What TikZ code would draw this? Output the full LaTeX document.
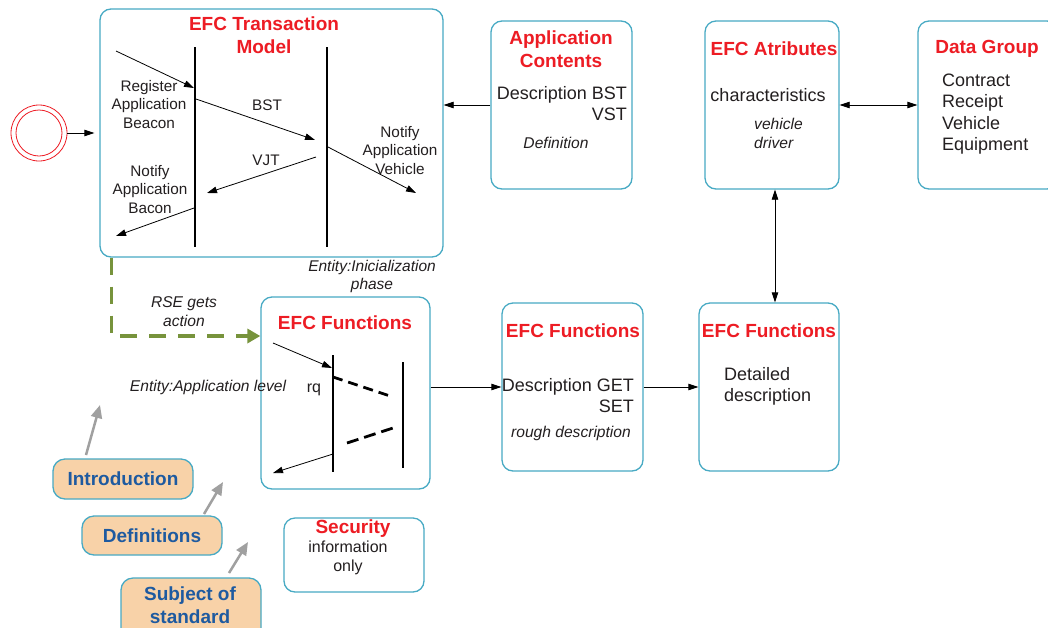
\documentclass[tikz,border=0pt]{standalone}
\usepackage{fontspec}
\setmainfont{Liberation Sans}
\usetikzlibrary{arrows.meta}
\definecolor{boxc}{RGB}{72,170,196}
\definecolor{efcred}{RGB}{237,28,36}
\definecolor{txt}{RGB}{35,31,32}
\definecolor{olivec}{RGB}{119,147,60}
\definecolor{peach}{RGB}{248,210,168}
\definecolor{navy}{RGB}{30,90,160}
\definecolor{greyarr}{RGB}{160,160,160}
\begin{document}
\begin{tikzpicture}[x=1pt,y=-1pt,
  box/.style={draw=boxc,line width=1.3pt,rounded corners=11pt,fill=white,inner sep=0pt},
  tag/.style={draw=boxc,line width=1.3pt,rounded corners=12pt,fill=peach,inner sep=0pt,text=navy,font=\fontsize{19}{23}\selectfont\bfseries,align=center,minimum width=140pt},
  ttl/.style={text=efcred,font=\fontsize{19}{23}\selectfont\bfseries,align=center,inner sep=0pt},
  tx/.style={text=txt,font=\fontsize{15.3}{18.5}\selectfont,align=center,inner sep=0pt},
  big/.style={text=txt,font=\fontsize{18}{21}\selectfont,inner sep=0pt},
  mid/.style={text=txt,font=\fontsize{16}{19}\selectfont,align=center,inner sep=0pt},
  it/.style={text=txt,font=\fontsize{15.6}{18}\selectfont\itshape,align=center,inner sep=0pt},
  arr/.style={draw=black,line width=0.8pt,-{Triangle[length=10pt,width=6.5pt]}},
  darr/.style={draw=black,line width=0.8pt,{Triangle[length=10pt,width=6.5pt]}-{Triangle[length=10pt,width=6.5pt]}},
  life/.style={line width=2.4pt,draw=black},
  dsh/.style={line width=2.8pt,draw=black,dash pattern=on 10pt off 6pt},
  garr/.style={draw=greyarr,line width=2.5pt,-{Triangle[length=13pt,width=11pt]}},
]
\clip (0,0) rectangle (1048,627);
\fill[white] (0,0) rectangle (1048,627);

% boxes
\node[box,minimum width=343pt,minimum height=248pt] (tm) at (271.5,133) {};
\node[box,minimum width=141pt,minimum height=168pt] (ac) at (561.5,105) {};
\node[box,minimum width=134pt,minimum height=168pt] (attr) at (772,105) {};
\node[box,minimum width=140pt,minimum height=168pt] (dg) at (988,105) {};
\node[box,minimum width=169pt,minimum height=192pt] (f2) at (345.5,393) {};
\node[box,minimum width=141pt,minimum height=168pt] (f3) at (572.5,387) {};
\node[box,minimum width=140pt,minimum height=168pt] (f4) at (769,387) {};
\node[box,minimum width=140pt,minimum height=74pt] (sec) at (354,555) {};
\node[tag,minimum height=40pt] (intro) at (123,479) {Introduction};
\node[tag,minimum height=39pt] (defs) at (152,535.5) {Definitions};
\node[tag,minimum height=62pt] (subj) at (191,609) {};
\node[text=navy,font=\fontsize{19}{23}\selectfont\bfseries,align=center,inner sep=0pt] (subjt) at (190,605) {Subject of\\standard};

% start
\node[circle,draw=efcred,line width=0.8pt,minimum size=56pt,inner sep=0pt] (start) at (39,133) {};
\node[circle,draw=efcred,line width=0.8pt,minimum size=46pt,inner sep=0pt] (starti) at (39,133) {};

% titles
\node[ttl] (tmt) at (264,35.5) {EFC Transaction\\Model};
\node[ttl] (act) at (561,49.5) {Application\\Contents};
\node[ttl] (attrt) at (774,49) {EFC Atributes};
\node[ttl] (dgt) at (987,49) {Data Group};
\node[ttl] (f2t) at (345,323) {EFC Functions};
\node[ttl] (f3t) at (573,331) {EFC Functions};
\node[ttl] (f4t) at (769,331) {EFC Functions};
\node[ttl] (sect) at (353,529) {Security};

% transaction model contents
\draw[life] (195,47) -- (195,247);
\draw[life] (327,47) -- (327,247);
\coordinate (m1a) at (116,51); \coordinate (m1b) at (194,88);
\coordinate (m2a) at (196,99); \coordinate (m2b) at (315,140);
\coordinate (m3a) at (316,157); \coordinate (m3b) at (207,193);
\coordinate (m4a) at (328,147); \coordinate (m4b) at (416,193);
\coordinate (m5a) at (194,208); \coordinate (m5b) at (116,236);
\draw[arr] (m1a) -- (m1b);
\draw[arr] (m2a) -- (m2b);
\draw[arr] (m3a) -- (m3b);
\draw[arr] (m4a) -- (m4b);
\draw[arr] (m5a) -- (m5b);
\node[tx] (rab) at (149,104.5) {Register\\Application\\Beacon};
\node[tx] (bst) at (267,105) {BST};
\node[tx] (vjt) at (266,160) {VJT};
\node[tx] (nav) at (400,150.5) {Notify\\Application\\Vehicle};
\node[tx] (nab) at (150,189.5) {Notify\\Application\\Bacon};
\node[it,font=\fontsize{15.5}{18}\selectfont\itshape] (einit) at (372,276) {Entity:Inicialization\\phase};

% application contents
\node[big,align=right,anchor=east] (acd) at (627,103.5) {Description BST\\VST};
\node[it] (acdef) at (556,143) {Definition};

% attributes
\node[big] (attrc) at (768,95) {characteristics};
\node[it,align=left,anchor=west,font=\fontsize{15.6}{19}\selectfont\itshape] (attrv) at (754,133) {vehicle\\driver};

% data group
\node[big,align=left,anchor=west,font=\fontsize{18}{21.3}\selectfont] (dgl) at (942,114) {Contract\\Receipt\\Vehicle\\Equipment};

% f2 contents
\draw[life] (333,355) -- (333,472);
\draw[life] (403,362) -- (403,468);
\coordinate (q1a) at (273,343); \coordinate (q1b) at (332,368);
\coordinate (q2a) at (333,454); \coordinate (q2b) at (273,473);
\draw[arr] (q1a) -- (q1b);
\draw[arr] (q2a) -- (q2b);
\coordinate (d1a) at (333,377); \coordinate (d1b) at (393,397);
\coordinate (d2a) at (347,443); \coordinate (d2b) at (393,428);
\draw[dsh] (d1a) -- (d1b);
\draw[dsh,dash pattern=on 12pt off 6pt] (d2a) -- (d2b);
\node[mid] (rq) at (314,390) {rq};

% f3, f4 contents
\node[big,align=right,anchor=east] (f3d) at (634,395.5) {Description GET\\SET};
\node[it] (f3r) at (571,433) {rough description};
\node[big,align=left,anchor=west] (f4d) at (724,386) {Detailed\\description};

% security
\node[mid] (secb) at (348,557.5) {information\\only};

% free labels
\node[it] (eapp) at (208,387) {Entity:Application level};
\node[it,font=\fontsize{15.6}{19}\selectfont\itshape] (rse) at (184,311.5) {RSE gets\\action};

% connectors
\draw[arr] (start.east) -- ([xshift=-5pt]tm.west |- start);
\draw[arr] (ac.west) -- (ac.west -| tm.east);
\draw[darr] (attr.east) -- (attr.east -| dg.west);
\draw[darr] ([xshift=3pt]attr.south) -- ([xshift=3pt]attr.south |- f4.north);
\draw[arr] (f2.east |- f3.west) -- (f3.west);
\draw[arr] (f3.east) -- (f4.west);
\draw[draw=olivec,line width=3.5pt,dash pattern=on 17pt off 12pt,-{Triangle[length=13pt,width=14pt]}]
  ([xshift=12pt]tm.south west) |- (f2.north west |- 0,336);

% grey arrows
\coordinate (g1a) at (86,455); \coordinate (g1b) at (100,405);
\coordinate (g2a) at (204,514); \coordinate (g2b) at (223,482);
\coordinate (g3a) at (229,573); \coordinate (g3b) at (248,542);
\draw[garr] (g1a) -- (g1b);
\draw[garr] (g2a) -- (g2b);
\draw[garr] (g3a) -- (g3b);
\end{tikzpicture}
\end{document}
